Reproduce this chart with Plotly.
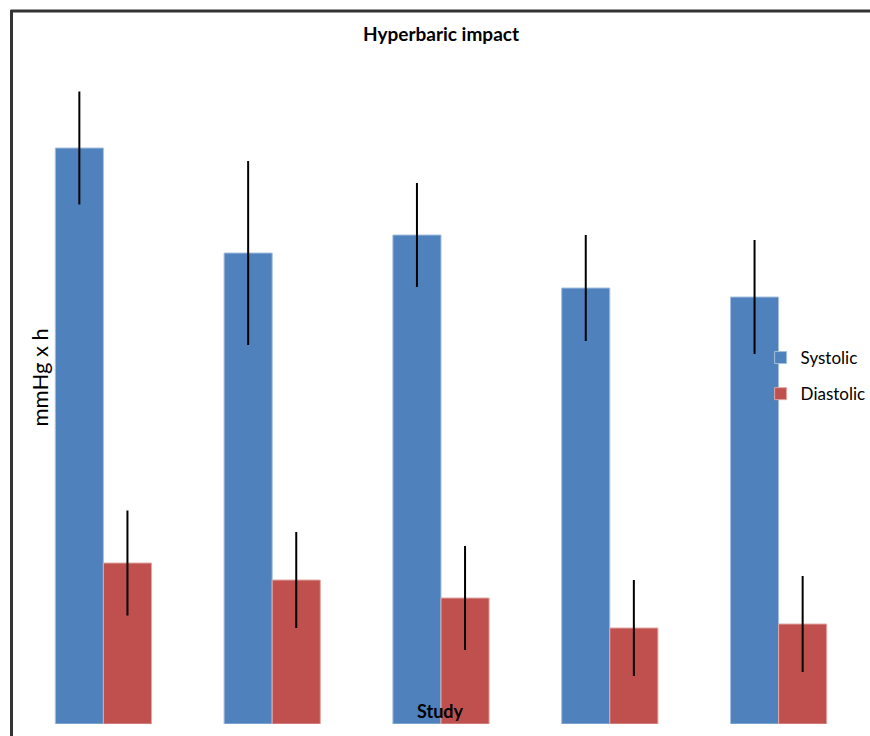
import plotly.graph_objects as go

studies = ["1", "2", "3", "4", "5"]
systolic = [115.2, 94.2, 97.8, 87.2, 85.4]
systolic_err = [11.3, 18.4, 10.4, 10.6, 11.4]
diastolic = [32.2, 28.8, 25.2, 19.2, 20.0]
diastolic_err = [10.5, 9.6, 10.4, 9.6, 9.6]

W, H = 870, 736
ml, mr, mt, mb = 18.5, 6.5, 24, 12
pw, ph = W - ml - mr, H - mt - mb

def px(x):
    return (x - ml) / pw

def py(y):
    return (H - mb - y) / ph

fig = go.Figure()
fig.add_trace(go.Bar(
    x=studies, y=systolic, name="Systolic", legendgroup="s",
    marker=dict(color="#4F81BD", line=dict(color="#A7C0DE", width=1)),
    error_y=dict(type="data", array=systolic_err, color="black", thickness=2, width=0),
))
fig.add_trace(go.Bar(
    x=studies, y=diastolic, name="Diastolic", legendgroup="d",
    marker=dict(color="#C0504D", line=dict(color="#DFA8A6", width=1)),
    error_y=dict(type="data", array=diastolic_err, color="black", thickness=2, width=0),
))

fig.update_layout(
    width=W, height=H,
    margin=dict(l=ml, r=mr, t=mt, b=mb, autoexpand=False),
    paper_bgcolor="white", plot_bgcolor="white",
    barmode="group", bargap=0.43, bargroupgap=0,
    showlegend=True,
    legend=dict(x=px(761), y=py(340), xanchor="left", yanchor="top",
                bgcolor="rgba(0,0,0,0)", font=dict(family="Lato, Open Sans, sans-serif", size=17, color="black"),
                tracegroupgap=11, itemwidth=30),
    xaxis=dict(showticklabels=False, showgrid=False, zeroline=False, showline=False, ticks=""),
    yaxis=dict(range=[0, 140], showticklabels=False, showgrid=False, zeroline=False, showline=False, ticks=""),
    font=dict(family="Lato, Open Sans, sans-serif", color="black"),
    annotations=[
        dict(text="<b>Hyperbaric impact</b>", x=px(441), y=py(33), xref="paper", yref="paper",
             showarrow=False, font=dict(size=19, color="black"), xanchor="center", yanchor="middle"),
        dict(text="<b>Study</b>", x=px(440), y=py(711), xref="paper", yref="paper",
             showarrow=False, font=dict(size=18, color="black"), xanchor="center", yanchor="middle"),
        dict(text="mmHg x h", x=px(40), y=py(377), xref="paper", yref="paper", textangle=-90,
             showarrow=False, font=dict(size=22, color="black"), xanchor="center", yanchor="middle"),
    ],
    shapes=[
        dict(type="line", xref="paper", yref="paper", x0=px(11), x1=px(11), y0=py(10), y1=py(740),
             line=dict(color="#333333", width=3)),
        dict(type="line", xref="paper", yref="paper", x0=px(10), x1=px(875), y0=py(11), y1=py(11),
             line=dict(color="#333333", width=3)),
    ],
)

fig.write_html("out.html", config={"displayModeBar": False},
               post_script="document.body.style.margin='0';document.body.style.overflow='hidden';")
